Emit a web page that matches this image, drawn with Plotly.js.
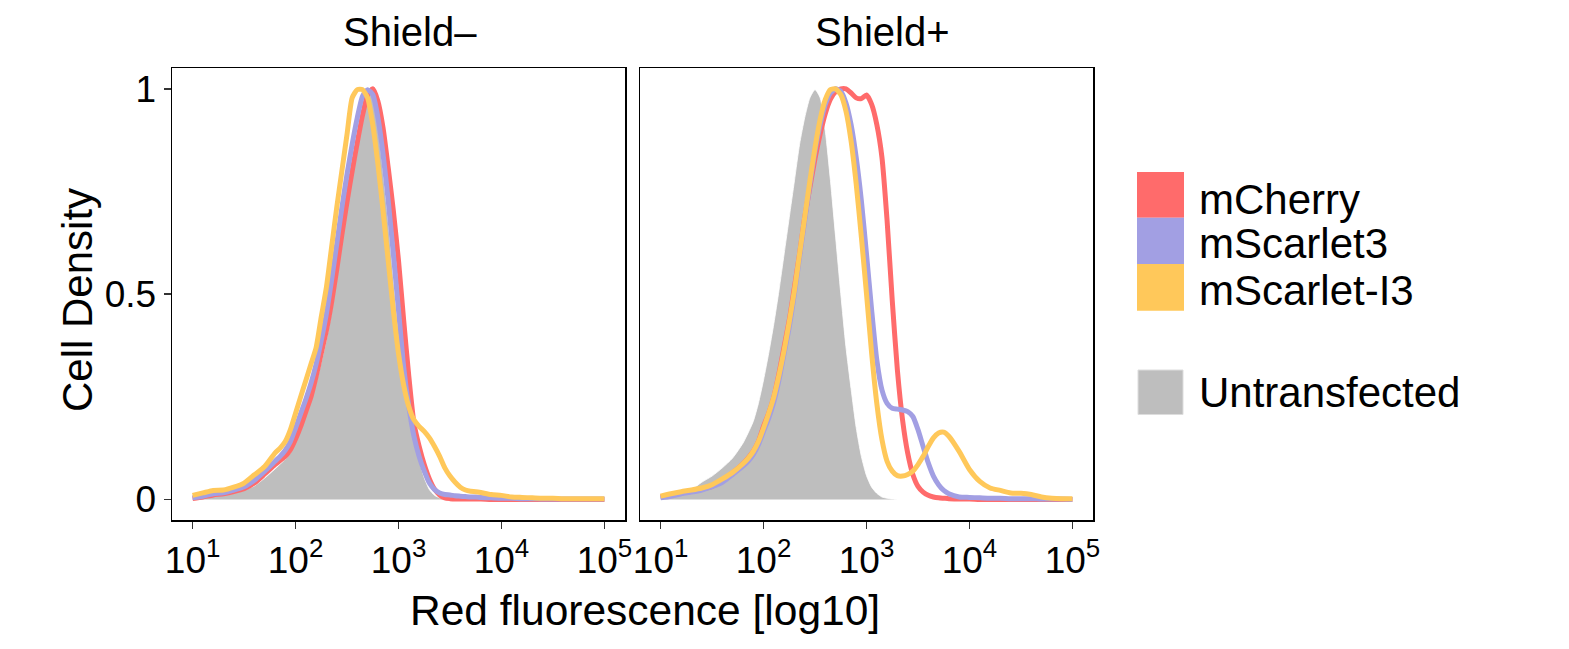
<!DOCTYPE html>
<html>
<head>
<meta charset="utf-8">
<script src="https://cdn.plot.ly/plotly-3.0.1.min.js"></script>
<style>html,body{margin:0;padding:0;background:#fff;}#plot{width:1569px;height:649px;}</style>
</head>
<body>
<div id="plot"></div>
<script>
// ---- data (log10 fluorescence grid, normalised densities) ----
const logGrid = [1.0,1.1,1.2,1.3,1.4,1.5,1.6,1.7,1.8,
  1.85,1.9,1.95,2.0,2.05,2.1,2.15,2.2,2.25,2.3,
  2.35,2.4,2.45,2.5,2.55,2.6,2.65,2.7,2.75,2.8,
  2.85,2.9,2.95,3.0,3.05,3.1,3.15,3.2,3.25,3.3,
  3.35,3.4,3.45,3.5,3.55,3.6,3.65,3.7,3.75,3.8,
  3.9,4.0,4.1,4.2,4.3,4.4,4.5,4.6,4.7,4.8,4.9,5.0];

const panels = ["Shield\u2013", "Shield+"];
const seriesNames = ["mCherry", "mScarlet3", "mScarlet-I3"];
const controlName = "Untransfected";
const tickLabels = ["10<sup>1</sup>","10<sup>2</sup>","10<sup>3</sup>","10<sup>4</sup>","10<sup>5</sup>"];
const tickValues = [10, 100, 1000, 10000, 100000];

// Shield- panel
const minusUntransfected = [0.002,0.005,0.008,0.011,0.016,0.023,0.033,0.052,0.074,
  0.086,0.098,0.114,0.140,0.170,0.205,0.240,0.285,0.335,0.390,
  0.460,0.540,0.630,0.715,0.795,0.880,0.962,1.000,0.978,0.913,
  0.800,0.680,0.540,0.410,0.315,0.226,0.154,0.097,0.053,0.024,
  0.010,0.004,0.002,0.001,0,0,0,0,0,0,
  0,0,0,0,0,0,0,0,0,0,0,0];
const minusCherry = [0.002,0.006,0.011,0.014,0.019,0.026,0.040,0.062,0.085,
  0.095,0.105,0.121,0.147,0.178,0.214,0.250,0.300,0.356,0.412,
  0.480,0.560,0.645,0.725,0.800,0.870,0.935,0.985,1.000,0.970,
  0.905,0.808,0.703,0.582,0.437,0.300,0.186,0.130,0.085,0.050,
  0.025,0.011,0.004,0.002,0.001,0.001,0.001,0.001,0.001,0.001,
  0,0,0,0,0,0,0,0,0,0,0,0];
const minusScarlet3 = [0.004,0.008,0.014,0.016,0.023,0.031,0.047,0.069,0.093,
  0.105,0.120,0.141,0.174,0.209,0.244,0.283,0.330,0.388,0.453,
  0.534,0.622,0.711,0.792,0.865,0.930,0.982,0.998,0.986,0.930,
  0.841,0.728,0.598,0.461,0.323,0.226,0.154,0.105,0.069,0.040,
  0.024,0.016,0.012,0.011,0.009,0.008,0.007,0.006,0.006,0.005,
  0.004,0.003,0.003,0.002,0.002,0.001,0.001,0.001,0.001,0.001,0.001,0.001];
const minusScarletI3 = [0.010,0.016,0.022,0.023,0.030,0.040,0.060,0.080,0.113,
  0.125,0.141,0.170,0.210,0.250,0.290,0.330,0.370,0.445,0.517,
  0.614,0.711,0.800,0.889,0.978,0.998,0.998,0.978,0.913,0.817,
  0.703,0.582,0.461,0.356,0.279,0.226,0.194,0.178,0.166,0.150,
  0.129,0.105,0.077,0.057,0.042,0.030,0.023,0.020,0.019,0.017,
  0.012,0.010,0.006,0.005,0.004,0.003,0.003,0.002,0.002,0.002,0.002,0.002];

// Shield+ panel
const plusUntransfected = [0.006,0.010,0.016,0.024,0.042,0.057,0.077,0.101,0.137,
  0.162,0.190,0.234,0.291,0.356,0.428,0.509,0.598,0.687,0.776,
  0.865,0.930,0.978,0.998,0.978,0.897,0.776,0.639,0.501,0.372,
  0.270,0.175,0.105,0.058,0.030,0.015,0.006,0.003,0.001,0,
  0,0,0,0,0,0,0,0,0,0,
  0,0,0,0,0,0,0,0,0,0,0,0];
const plusCherry = [0.006,0.011,0.016,0.020,0.026,0.032,0.047,0.065,0.087,
  0.101,0.117,0.141,0.178,0.210,0.250,0.307,0.372,0.437,0.517,
  0.598,0.687,0.760,0.830,0.890,0.940,0.975,0.993,1.000,1.000,
  0.990,0.978,0.976,0.985,0.962,0.913,0.833,0.679,0.485,0.315,
  0.194,0.113,0.061,0.032,0.018,0.010,0.006,0.004,0.003,0.002,
  0.001,0.001,0,0,0,0,0,0,0,0,0,0];
const plusScarlet3 = [0.004,0.008,0.014,0.018,0.023,0.031,0.042,0.061,0.081,
  0.093,0.109,0.133,0.166,0.198,0.238,0.291,0.356,0.420,0.501,
  0.590,0.679,0.768,0.849,0.913,0.962,0.990,1.000,0.994,0.966,
  0.913,0.833,0.728,0.598,0.461,0.340,0.267,0.234,0.222,0.220,
  0.218,0.214,0.202,0.170,0.129,0.089,0.057,0.036,0.022,0.014,
  0.006,0.005,0.004,0.003,0.003,0.002,0.002,0.002,0.001,0.001,0.001,0];
const plusScarletI3 = [0.008,0.014,0.019,0.023,0.028,0.036,0.050,0.066,0.087,
  0.100,0.117,0.141,0.174,0.210,0.250,0.303,0.364,0.433,0.509,
  0.598,0.687,0.776,0.857,0.926,0.974,0.998,1.000,0.986,0.946,
  0.873,0.768,0.639,0.501,0.356,0.234,0.146,0.093,0.069,0.058,
  0.057,0.061,0.069,0.085,0.105,0.129,0.150,0.162,0.164,0.154,
  0.117,0.073,0.044,0.028,0.022,0.016,0.015,0.012,0.006,0.003,0.002,0.002];

// ---- styling ----
const W = 1569, H = 649;
const px = v => v / W;
const py = v => 1 - v / H;
const colors = ["#FF6B6B", "#A29FE3", "#FFC85A"];
const grayFill = "#BEBEBE";
const FONT = "Liberation Sans, Arial, Helvetica, sans-serif";

const xVals = logGrid.map(v => Math.pow(10, v));
const panelData = [
  {ctrl: minusUntransfected, lines: [minusCherry, minusScarlet3, minusScarletI3], xa: "x", ya: "y"},
  {ctrl: plusUntransfected, lines: [plusCherry, plusScarlet3, plusScarletI3], xa: "x2", ya: "y2"}
];

const traces = [];
panelData.forEach(p => {
  traces.push({
    x: xVals, y: p.ctrl, xaxis: p.xa, yaxis: p.ya, type: "scatter", mode: "lines",
    name: controlName, fill: "tozeroy", fillcolor: grayFill,
    line: {color: "white", width: 0.8, shape: "spline", smoothing: 0.6},
    showlegend: false, hoverinfo: "skip"
  });
  p.lines.forEach((ys, i) => {
    traces.push({
      x: xVals, y: ys, xaxis: p.xa, yaxis: p.ya, type: "scatter", mode: "lines",
      name: seriesNames[i],
      line: {color: colors[i], width: 5, shape: "spline", smoothing: 0.6},
      showlegend: false, hoverinfo: "skip"
    });
  });
});

const xBase = {
  type: "log", range: [0.8, 5.2], tickvals: tickValues, ticktext: tickLabels,
  ticks: "outside", ticklen: 7, tickwidth: 1.5, tickcolor: "#333",
  showline: true, mirror: true, linecolor: "black", linewidth: 1.5,
  showgrid: false, zeroline: false, fixedrange: true,
  tickfont: {family: FONT, size: 37, color: "black"}
};
const yDomain = [py(520), py(68.3)];
const yBase = {
  range: [-0.05, 1.05], domain: yDomain,
  showline: true, mirror: true, linecolor: "black", linewidth: 1.5,
  showgrid: false, zeroline: false, fixedrange: true
};

const annotations = [
  {text: panels[0], x: px(410), y: py(32), size: 40},
  {text: panels[1], x: px(882), y: py(32), size: 40},
  {text: "Red fluorescence [log10]", x: px(645), y: py(610), size: 42.5},
  {text: "Cell Density", x: px(77), y: py(300), size: 42, textangle: -90},
  {text: seriesNames[0], x: px(1197), y: py(199), size: 42, xanchor: "left"},
  {text: seriesNames[1], x: px(1197), y: py(244), size: 42, xanchor: "left"},
  {text: seriesNames[2], x: px(1197), y: py(290.5), size: 42, xanchor: "left"},
  {text: controlName, x: px(1197), y: py(392), size: 42, xanchor: "left"}
].map(a => ({
  text: a.text, x: a.x, y: a.y, xref: "paper", yref: "paper",
  xanchor: a.xanchor || "center", yanchor: "middle", showarrow: false,
  textangle: a.textangle || 0,
  font: {family: FONT, size: a.size, color: "black"}
}));

const keyRows = [[172, 217.7], [217.7, 264], [264, 310.7]];
const shapes = keyRows.map((r, i) => ({
  type: "rect", xref: "paper", yref: "paper",
  x0: px(1137), x1: px(1184), y0: py(r[1]), y1: py(r[0]),
  fillcolor: colors[i], line: {width: 0}
}));
shapes.push({
  type: "rect", xref: "paper", yref: "paper",
  x0: px(1138), x1: px(1183), y0: py(414.5), y1: py(370),
  fillcolor: grayFill, line: {color: "#dddddd", width: 1}
});

const layout = {
  width: W, height: H,
  margin: {l: 0, r: 0, t: 0, b: 0, pad: 0},
  paper_bgcolor: "white", plot_bgcolor: "white",
  showlegend: false,
  font: {family: FONT, color: "black"},
  xaxis: Object.assign({}, xBase, {domain: [px(172), px(625)], anchor: "y"}),
  xaxis2: Object.assign({}, xBase, {domain: [px(640), px(1093)], anchor: "y2"}),
  yaxis: Object.assign({}, yBase, {
    anchor: "x", tickvals: [0, 0.5, 1], ticktext: ["0", "0.5", "1"],
    ticks: "outside", ticklen: 7, tickwidth: 1.5, tickcolor: "#333",
    tickfont: {family: FONT, size: 37, color: "black"}
  }),
  yaxis2: Object.assign({}, yBase, {anchor: "x2", showticklabels: false, ticks: ""}),
  annotations: annotations,
  shapes: shapes
};

Plotly.newPlot("plot", traces, layout, {staticPlot: true, displayModeBar: false});
</script>
</body>
</html>
